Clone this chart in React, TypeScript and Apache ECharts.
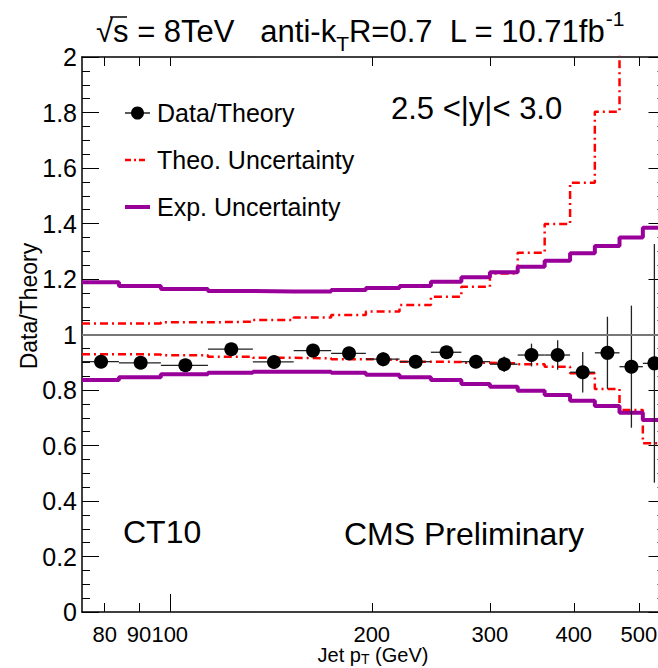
import React, { useEffect, useRef } from "react";
import * as echarts from "echarts";

// Jet pT bin edges (GeV) and bin centres
const binEdges = [74, 84, 97, 114, 133, 153, 174, 196, 220, 245, 272, 300, 330, 362, 395, 430, 468, 507, 548];
const binCenters = [79, 90.5, 105.5, 123.5, 143, 163.5, 185, 208, 232.5, 258.5, 286, 315, 346, 378.5, 412.5, 449, 487.5, 527.5];

// Data / theory ratio and its statistical error
const ratio = [0.902, 0.898, 0.889, 0.947, 0.901, 0.942, 0.932, 0.911, 0.902, 0.936, 0.902, 0.893, 0.926, 0.926, 0.864, 0.934, 0.884, 0.896];
const statErr = [0.008, 0.008, 0.008, 0.009, 0.01, 0.011, 0.012, 0.025, 0.022, 0.02, 0.022, 0.028, 0.041, 0.053, 0.073, 0.13, 0.22, 0.43];

// Experimental uncertainty band (upper / lower edge)
const expUp = [1.188, 1.175, 1.164, 1.157, 1.155, 1.155, 1.16, 1.168, 1.175, 1.19, 1.206, 1.224, 1.244, 1.266, 1.293, 1.319, 1.35, 1.385];
const expDown = [0.836, 0.846, 0.857, 0.862, 0.866, 0.866, 0.862, 0.855, 0.846, 0.836, 0.822, 0.812, 0.797, 0.782, 0.761, 0.742, 0.718, 0.692];

// Theory (PDF + scale) uncertainty band (upper / lower edge)
const theoUp = [1.04, 1.04, 1.044, 1.046, 1.052, 1.061, 1.07, 1.083, 1.106, 1.136, 1.172, 1.22, 1.295, 1.398, 1.547, 1.803, 2.4, 2.6];
const theoDown = [0.929, 0.928, 0.925, 0.92, 0.916, 0.914, 0.911, 0.909, 0.902, 0.901, 0.898, 0.896, 0.893, 0.884, 0.86, 0.804, 0.728, 0.608];

// Axis ticks
const xTickValues = [80, 90, 100, 200, 300, 400, 500];
const xLongTick = [100];
const yMin = 0;
const yMax = 2;
const yStep = 0.2;

const FONT = "'Liberation Sans', Arial, Helvetica, sans-serif";
const PURPLE = "#990099";
const RED = "#ff0000";

function stepPoints(vals: number[]): number[][] {
  const pts = vals.map((v, i) => [binEdges[i], v]);
  pts.push([binEdges[vals.length], vals[vals.length - 1]]);
  return pts;
}

function textEl(x: number, y: number, text: string, size: number, extra: any = {}) {
  return {
    type: "text",
    x,
    y,
    z: 100,
    style: {
      text,
      fill: "#000",
      fontSize: size,
      fontFamily: FONT,
      align: "left",
      textAlign: "left",
      verticalAlign: "middle",
      textVerticalAlign: "middle",
      ...extra,
    },
  };
}

export default function App() {
  const ref = useRef<HTMLDivElement>(null);

  useEffect(() => {
    if (!ref.current) return;
    const chart = echarts.init(ref.current, undefined, { renderer: "svg" });

    const errData = binCenters.map((c, i) => [c, ratio[i], binEdges[i], binEdges[i + 1], statErr[i]]);

    const redDash = [8, 4, 2, 4];

    const logAxisBase = {
      type: "log",
      logBase: 10,
      min: binEdges[0],
      max: binEdges[binEdges.length - 1],
      splitLine: { show: false },
    };

    const option: any = {
      animation: false,
      backgroundColor: "#fff",
      grid: {
        left: 82,
        top: 57,
        width: 583.5,
        height: 555,
        outerBoundsMode: "none",
        containLabel: false,
      },
      xAxis: [
        {
          ...logAxisBase,
          position: "bottom",
          axisLine: { show: true, lineStyle: { color: "#000", width: 1.5 } },
          axisTick: {
            show: true,
            inside: true,
            length: 9,
            customValues: xTickValues,
            lineStyle: { color: "#000", width: 1 },
          },
          axisLabel: {
            show: true,
            customValues: xTickValues,
            fontSize: 22,
            fontFamily: FONT,
            color: "#000",
            margin: 11,
          },
          minorTick: { show: false },
        },
        {
          ...logAxisBase,
          position: "bottom",
          axisLine: { show: false },
          axisTick: {
            show: true,
            inside: true,
            length: 18,
            customValues: xLongTick,
            lineStyle: { color: "#000", width: 1 },
          },
          axisLabel: { show: false },
        },
        {
          ...logAxisBase,
          position: "top",
          axisLine: { show: true, lineStyle: { color: "#000", width: 1.5 } },
          axisTick: {
            show: true,
            inside: true,
            length: 9,
            customValues: xTickValues,
            lineStyle: { color: "#000", width: 1 },
          },
          axisLabel: { show: false },
        },
      ],
      yAxis: [
        {
          type: "value",
          min: yMin,
          max: yMax,
          interval: yStep,
          position: "left",
          axisLine: { show: true, lineStyle: { color: "#000", width: 1.5 } },
          axisTick: { show: true, inside: true, length: 17, lineStyle: { color: "#000", width: 1 } },
          minorTick: { show: true, splitNumber: 4, length: 8, lineStyle: { color: "#000", width: 1 } },
          axisLabel: { fontSize: 25, fontFamily: FONT, color: "#000", margin: 5 },
          splitLine: { show: false },
          minorSplitLine: { show: false },
        },
        {
          type: "value",
          min: yMin,
          max: yMax,
          interval: yStep,
          position: "right",
          axisLine: { show: true, lineStyle: { color: "#000", width: 1.5 } },
          axisTick: { show: true, inside: true, length: 17, lineStyle: { color: "#000", width: 1 } },
          minorTick: { show: true, splitNumber: 4, length: 8, lineStyle: { color: "#000", width: 1 } },
          axisLabel: { show: false },
          splitLine: { show: false },
        },
      ],
      series: [
        {
          name: "Theo. Uncertainty",
          type: "line",
          step: "end",
          data: stepPoints(theoUp),
          showSymbol: false,
          symbol: "none",
          clip: true,
          lineStyle: { color: RED, width: 2.5, type: redDash },
          z: 2,
          markLine: {
            silent: true,
            symbol: ["none", "none"],
            label: { show: false },
            lineStyle: { color: "#777", width: 2, type: "solid" },
            data: [{ yAxis: 1 }],
          },
        },
        {
          name: "Theo. Uncertainty low",
          type: "line",
          step: "end",
          data: stepPoints(theoDown),
          showSymbol: false,
          symbol: "none",
          clip: true,
          lineStyle: { color: RED, width: 2.5, type: redDash },
          z: 2,
        },
        {
          name: "Exp. Uncertainty",
          type: "line",
          step: "end",
          data: stepPoints(expUp),
          showSymbol: false,
          symbol: "none",
          clip: true,
          lineStyle: { color: PURPLE, width: 4 },
          z: 3,
        },
        {
          name: "Exp. Uncertainty low",
          type: "line",
          step: "end",
          data: stepPoints(expDown),
          showSymbol: false,
          symbol: "none",
          clip: true,
          lineStyle: { color: PURPLE, width: 4 },
          z: 3,
        },
        {
          name: "Data errors",
          type: "custom",
          data: errData,
          encode: { x: 0, y: 1 },
          z: 4,
          clip: true,
          renderItem: (params: any, api: any) => {
            const xc = api.value(0);
            const y = api.value(1);
            const lo = api.value(2);
            const hi = api.value(3);
            const e = api.value(4);
            const pL = api.coord([lo, y]);
            const pR = api.coord([hi, y]);
            const pT = api.coord([xc, Math.min(y + e, yMax)]);
            const pB = api.coord([xc, Math.max(y - e, yMin)]);
            const st = { stroke: "#222", lineWidth: 1.3 };
            return {
              type: "group",
              children: [
                { type: "line", shape: { x1: pL[0], y1: pL[1], x2: pR[0], y2: pR[1] }, style: st },
                { type: "line", shape: { x1: pT[0], y1: pT[1], x2: pB[0], y2: pB[1] }, style: st },
              ],
            };
          },
        },
        {
          name: "Data/Theory",
          type: "scatter",
          data: binCenters.map((c, i) => [c, ratio[i]]),
          symbol: "circle",
          symbolSize: 14,
          itemStyle: { color: "#000", opacity: 1 },
          z: 5,
        },
      ],
      graphic: [
        // title line
        {
          type: "text",
          x: 96,
          y: 31,
          z: 100,
          style: {
            text: "{m|√s = 8TeV   anti-k}{sub|T}{m|R=0.7  L = 10.71fb}{sup|-1}",
            fill: "#000",
            fontFamily: FONT,
            align: "left",
            textAlign: "left",
            verticalAlign: "middle",
            textVerticalAlign: "middle",
            rich: {
              m: { fontSize: 31, fontFamily: FONT, fill: "#000", lineHeight: 46, verticalAlign: "middle" },
              sub: { fontSize: 21, fontFamily: FONT, fill: "#000", lineHeight: 20, verticalAlign: "bottom" },
              sup: { fontSize: 21, fontFamily: FONT, fill: "#000", lineHeight: 20, verticalAlign: "top" },
            },
          },
        },
        // bar over the s of the square root
        { type: "line", z: 100, shape: { x1: 110, y1: 17, x2: 127, y2: 17 }, style: { stroke: "#000", lineWidth: 1.5 } },
        textEl(391, 108, "2.5 <|y|< 3.0", 31),
        textEl(123, 532, "CT10", 32),
        textEl(344, 534, "CMS Preliminary", 32),
        // axis titles
        {
          type: "text",
          x: 373,
          y: 655,
          z: 100,
          style: {
            text: "{m|Jet p}{sub|T}{m| (GeV)}",
            fill: "#000",
            fontFamily: FONT,
            align: "center",
            textAlign: "center",
            verticalAlign: "middle",
            textVerticalAlign: "middle",
            rich: {
              m: { fontSize: 20, fontFamily: FONT, fill: "#000", lineHeight: 22, verticalAlign: "middle" },
              sub: { fontSize: 14, fontFamily: FONT, fill: "#000", lineHeight: 12, verticalAlign: "bottom" },
            },
          },
        },
        {
          type: "text",
          x: 29,
          y: 306,
          rotation: Math.PI / 2,
          z: 100,
          style: {
            text: "Data/Theory",
            fill: "#000",
            fontSize: 23,
            fontFamily: FONT,
            align: "center",
            textAlign: "center",
            verticalAlign: "middle",
            textVerticalAlign: "middle",
          },
        },
        // legend: Data/Theory
        { type: "line", z: 100, shape: { x1: 125, y1: 113, x2: 150, y2: 113 }, style: { stroke: "#000", lineWidth: 1.3 } },
        { type: "circle", z: 101, shape: { cx: 137.5, cy: 113, r: 6.5 }, style: { fill: "#000" } },
        textEl(157, 113, "Data/Theory", 25),
        // legend: Theo. Uncertainty
        {
          type: "line",
          z: 100,
          shape: { x1: 125, y1: 160, x2: 147, y2: 160 },
          style: { stroke: RED, lineWidth: 2.5, lineDash: [6, 3, 2, 3] },
        },
        textEl(157, 160, "Theo. Uncertainty", 25),
        // legend: Exp. Uncertainty
        { type: "line", z: 100, shape: { x1: 125, y1: 207, x2: 150, y2: 207 }, style: { stroke: PURPLE, lineWidth: 4 } },
        textEl(157, 207, "Exp. Uncertainty", 25),
      ],
    };

    chart.setOption(option);
    return () => chart.dispose();
  }, []);

  return (
    <div
      ref={ref}
      style={{ position: "fixed", left: 0, top: 0, width: 658, height: 668, overflow: "hidden", background: "#fff" }}
    />
  );
}
